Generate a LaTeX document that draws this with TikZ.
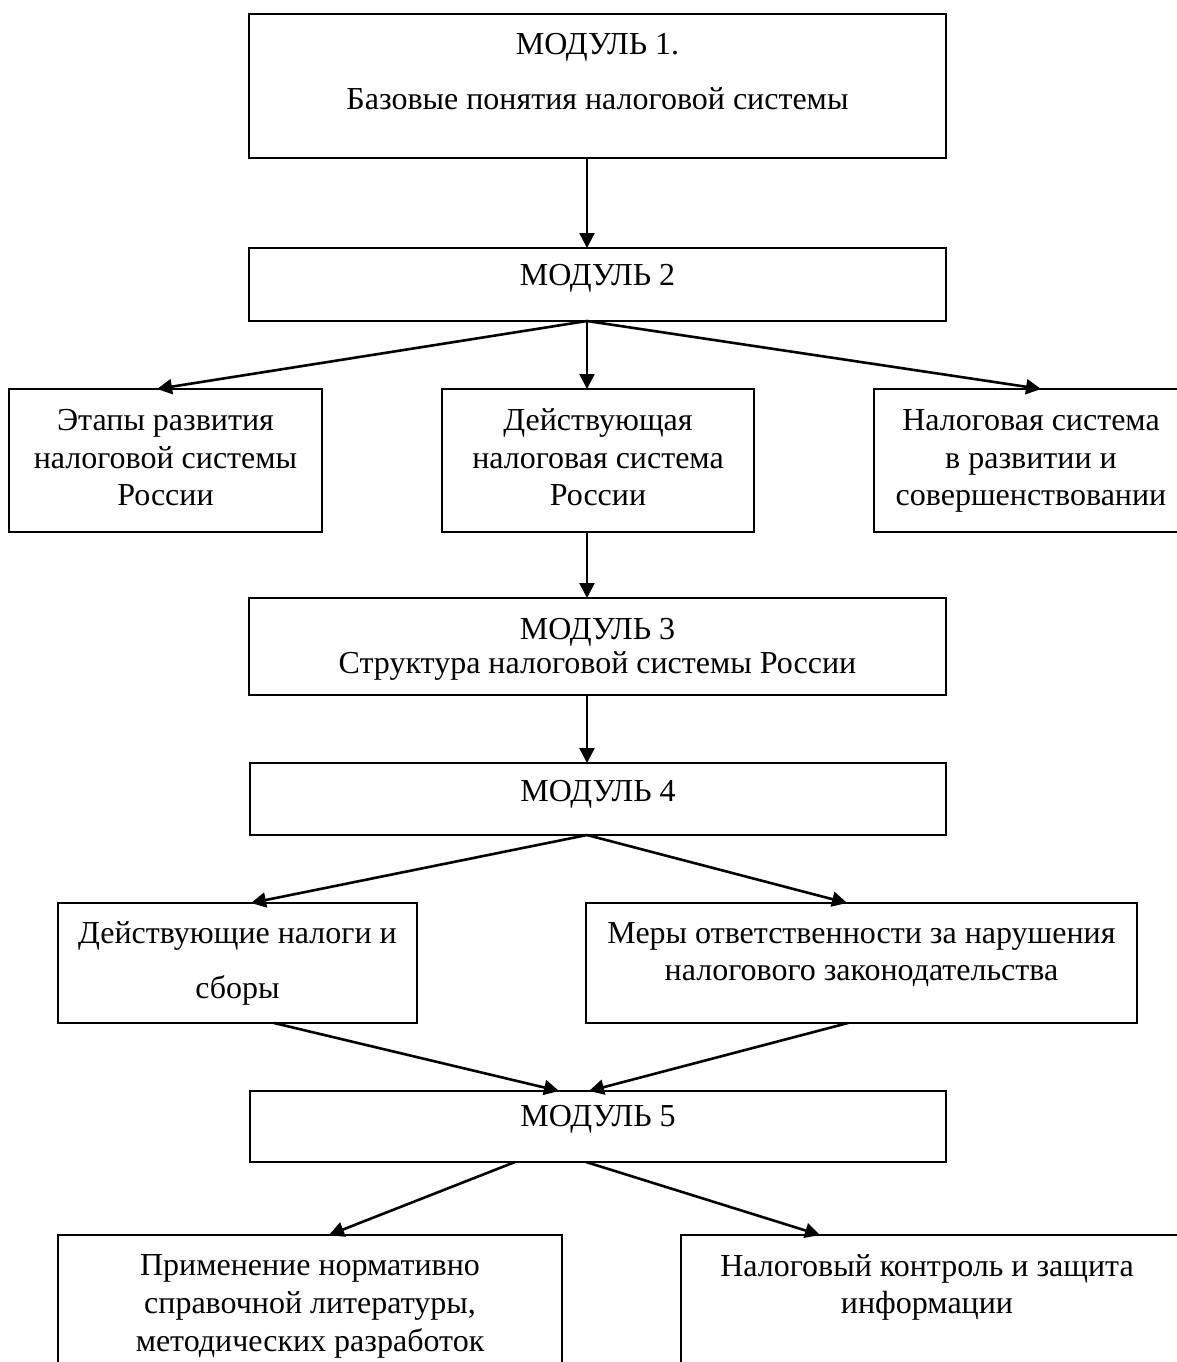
\documentclass[tikz,border=0pt]{standalone}
\usepackage{fontspec}
\setmainfont{Liberation Serif}
\usetikzlibrary{arrows.meta}
\tikzset{
  boxnode/.style={draw, line width=2pt, inner sep=0pt, outer sep=0pt},
  txt/.style={anchor=base, inner sep=0pt, font=\fontsize{32}{37.5}\selectfont},
  arr/.style={line width=2.6pt, -{Triangle[length=15pt,width=15pt]}}
}
\newcommand{\mkbox}[5]{\node[boxnode, minimum width={(#4)-(#2)}, minimum height={(#5)-(#3)}] (#1) at ({((#2)+(#4))/2},{((#3)+(#5))/2}) {};}
\begin{document}
\begin{tikzpicture}[x=1pt,y=-1pt]
\clip (0,0) rectangle (1177,1362);
\fill[white] (0,0) rectangle (1177,1362);
% boxes
\mkbox{m1}{249}{14}{946}{158}
\mkbox{m2}{249}{248}{946}{321}
\mkbox{bL}{9}{389}{322}{532}
\mkbox{bC}{442}{389}{754}{532}
\mkbox{bR}{874}{389}{1188}{532}
\mkbox{m3}{249}{598}{946}{695}
\mkbox{m4}{250}{763}{946}{835}
\mkbox{bLL}{58}{903}{417}{1023}
\mkbox{bRR}{586}{903}{1137}{1023}
\mkbox{m5}{250}{1091}{946}{1162}
\mkbox{bBL}{58}{1235}{562}{1420}
\mkbox{bBR}{681}{1235}{1185}{1420}
% texts
\node[txt] (t1a) at (597.5,55) {МОДУЛЬ 1.};
\node[txt] (t1b) at (597.5,110) {Базовые понятия налоговой системы};
\node[txt] (t2) at (597.5,285) {МОДУЛЬ 2};
\node[txt] (tLa) at (165.5,430) {Этапы развития};
\node[txt] (tLb) at (165.5,468) {налоговой системы};
\node[txt] (tLc) at (165.5,505) {России};
\node[txt] (tCa) at (598,430) {Действующая};
\node[txt] (tCb) at (598,468) {налоговая система};
\node[txt] (tCc) at (598,505) {России};
\node[txt] (tRa) at (1031,430) {Налоговая система};
\node[txt] (tRb) at (1031,468) {в развитии и};
\node[txt] (tRc) at (1031,505) {совершенствовании};
\node[txt] (t3a) at (597.5,639) {МОДУЛЬ 3};
\node[txt] (t3b) at (597.5,673) {Структура налоговой системы России};
\node[txt] (t4) at (598,801) {МОДУЛЬ 4};
\node[txt] (tLLa) at (237.5,943) {Действующие налоги и};
\node[txt] (tLLb) at (237.5,998) {сборы};
\node[txt] (tRRa) at (861.5,943) {Меры ответственности за нарушения};
\node[txt] (tRRb) at (861.5,980) {налогового законодательства};
\node[txt] (t5) at (598,1126) {МОДУЛЬ 5};
\node[txt] (tBLa) at (310,1275) {Применение нормативно};
\node[txt] (tBLb) at (310,1313) {справочной литературы,};
\node[txt] (tBLc) at (310,1351) {методических разработок};
\node[txt] (tBRa) at (927,1276) {Налоговый контроль и защита};
\node[txt] (tBRb) at (927,1313) {информации};
% x positions for connectors
\coordinate (xa) at (587,0);
\coordinate (xL) at (157,0);
\coordinate (xR) at (1041,0);
\coordinate (xLL) at (251,0);
\coordinate (xRR) at (847,0);
\coordinate (xs1) at (274,0);
\coordinate (xs2) at (848,0);
\coordinate (xt1) at (559,0);
\coordinate (xt2) at (589,0);
\coordinate (xu1) at (515,0);
\coordinate (xu2) at (586,0);
\coordinate (xBL) at (329,0);
\coordinate (xBR) at (820,0);
% connectors
\draw[arr] (m1.south -| xa) -- (m2.north -| xa);
\draw[arr] (m2.south -| xa) -- (bL.north -| xL);
\draw[arr] (m2.south -| xa) -- (bC.north -| xa);
\draw[arr] (m2.south -| xa) -- (bR.north -| xR);
\draw[arr] (bC.south -| xa) -- (m3.north -| xa);
\draw[arr] (m3.south -| xa) -- (m4.north -| xa);
\draw[arr] (m4.south -| xa) -- (bLL.north -| xLL);
\draw[arr] (m4.south -| xa) -- (bRR.north -| xRR);
\draw[arr] (bLL.south -| xs1) -- (m5.north -| xt1);
\draw[arr] (bRR.south -| xs2) -- (m5.north -| xt2);
\draw[arr] (m5.south -| xu1) -- (bBL.north -| xBL);
\draw[arr] (m5.south -| xu2) -- (bBR.north -| xBR);
\end{tikzpicture}
\end{document}
